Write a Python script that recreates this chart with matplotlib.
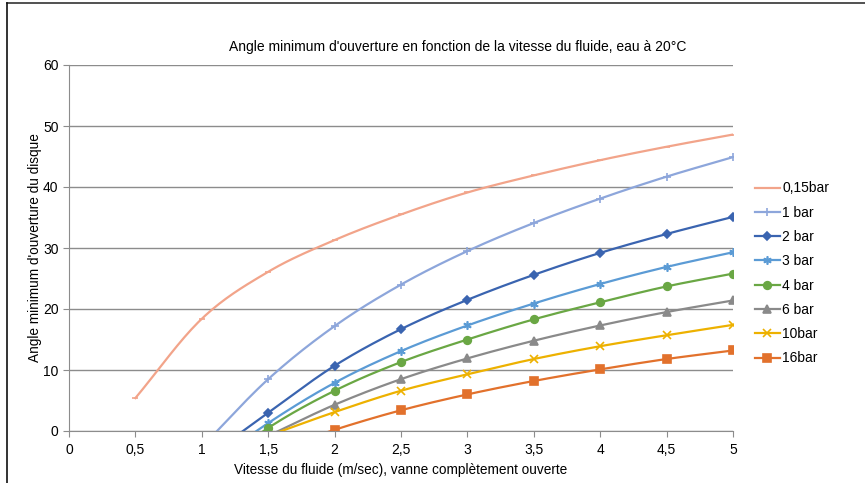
import numpy as np
import matplotlib
matplotlib.use("Agg")
import matplotlib.pyplot as plt
from matplotlib.lines import Line2D

plt.rcParams['font.family'] = ['Liberation Sans', 'DejaVu Sans']

# vitesse (m/s)
x_015 = [0.5, 1.0, 1.5, 2.0, 2.5, 3.0, 3.5, 4.0, 4.5, 5.0]
x_1 = [1.0, 1.5, 2.0, 2.5, 3.0, 3.5, 4.0, 4.5, 5.0]
x_2 = [1.0, 1.5, 2.0, 2.5, 3.0, 3.5, 4.0, 4.5, 5.0]
x_3 = [1.0, 1.5, 2.0, 2.5, 3.0, 3.5, 4.0, 4.5, 5.0]
x_4 = [1.0, 1.5, 2.0, 2.5, 3.0, 3.5, 4.0, 4.5, 5.0]
x_6 = [1.5, 2.0, 2.5, 3.0, 3.5, 4.0, 4.5, 5.0]
x_10 = [1.5, 2.0, 2.5, 3.0, 3.5, 4.0, 4.5, 5.0]
x_16 = [1.5, 2.0, 2.5, 3.0, 3.5, 4.0, 4.5, 5.0]

# angle minimum (deg) - negative values fall below the axis and are clipped
y_015 = [5.4, 18.4, 26.1, 31.3, 35.5, 39.1, 41.9, 44.4, 46.6, 48.6]
y_1 = [-2.6, 8.5, 17.2, 24.0, 29.5, 34.1, 38.1, 41.7, 44.9]
y_2 = [-4.9, 3.0, 10.7, 16.7, 21.5, 25.6, 29.2, 32.3, 35.1]
y_3 = [-6.5, 1.3, 7.9, 13.1, 17.3, 20.9, 24.1, 26.9, 29.3]
y_4 = [-7.5, 0.5, 6.6, 11.3, 15.0, 18.3, 21.1, 23.7, 25.8]
y_6 = [-0.8, 4.3, 8.5, 11.9, 14.8, 17.3, 19.5, 21.4]
y_10 = [-0.8, 3.1, 6.6, 9.3, 11.8, 13.9, 15.7, 17.4]
y_16 = [-3.5, 0.2, 3.4, 6.0, 8.2, 10.1, 11.8, 13.2]

labels = ['0,15bar', '1 bar', '2 bar', '3 bar', '4 bar', '6 bar', '10bar', '16bar']
xs = [x_015, x_1, x_2, x_3, x_4, x_6, x_10, x_16]
ys = [y_015, y_1, y_2, y_3, y_4, y_6, y_10, y_16]
colors = ['#F2A48A', '#8DA6DB', '#3A64B0', '#5B9BD5', '#6AA744', '#8A8A8A', '#EDB100', '#E2712C']
markers = ['_', '+', 'D', (6, 2, 0), 'o', '^', 'x', 's']
msizes = [4, 6, 4.5, 6, 5.5, 6, 5.5, 6]


def smooth(x, y, n=20):
    # catmull-rom curve through the points, like excel smoothed lines
    x = np.asarray(x, float)
    y = np.asarray(y, float)
    px = np.concatenate([[2 * x[0] - x[1]], x, [2 * x[-1] - x[-2]]])
    py = np.concatenate([[2 * y[0] - y[1]], y, [2 * y[-1] - y[-2]]])
    t = np.linspace(0, 1, n)
    ox, oy = [], []
    for i in range(1, len(px) - 2):
        for p, o in ((px, ox), (py, oy)):
            p0, p1, p2, p3 = p[i - 1], p[i], p[i + 1], p[i + 2]
            o.extend(0.5 * (2 * p1 + (-p0 + p2) * t
                            + (2 * p0 - 5 * p1 + 4 * p2 - p3) * t ** 2
                            + (-p0 + 3 * p1 - 3 * p2 + p3) * t ** 3))
    return np.array(ox), np.array(oy)


fig = plt.figure(figsize=(8.65, 4.83), dpi=100)
ax = fig.add_axes([69 / 865, 1 - 431 / 483, 664 / 865, 366 / 483])

handles = []
for x, y, c, m, ms, lab in zip(xs, ys, colors, markers, msizes, labels):
    sx, sy = smooth(x, y)
    ax.plot(sx, sy, color=c, lw=1.6, clip_on=True)
    ax.plot(x, y, ls='none', marker=m, ms=ms, color=c, mec=c, mew=1.2)
    handles.append(Line2D([0], [0], color=c, lw=1.6, marker=m, ms=ms, mec=c, mew=1.2))

ax.set_xlim(0, 5)
ax.set_ylim(0, 60)
ax.set_xticks(np.arange(0, 5.01, 0.5))
ax.set_xticklabels(['0', '0,5', '1', '1,5', '2', '2,5', '3', '3,5', '4', '4,5', '5'])
ax.set_yticks(range(0, 61, 10))
ax.yaxis.grid(True, color='#8C8C8C', lw=1)
ax.set_axisbelow(True)
for s in ['top', 'right']:
    ax.spines[s].set_visible(False)
for s in ['left', 'bottom']:
    ax.spines[s].set_color('#8C8C8C')
ax.tick_params(axis='both', colors='#8C8C8C', labelcolor='black', labelsize=10, length=4)
ax.tick_params(axis='x', pad=5)

ax.set_xlabel('Vitesse du fluide (m/sec), vanne complètement ouverte', fontsize=9.8, labelpad=4)
ax.set_ylabel("Angle minimum d'ouverture du disque", fontsize=9.8, labelpad=1)
fig.text(458 / 865, 1 - 47 / 483, "Angle minimum d'ouverture en fonction de la vitesse du fluide, eau à 20°C",
         ha='center', va='center', fontsize=10)

fig.legend(handles, labels, loc='upper left', bbox_to_anchor=(742 / 865, 1 - 169 / 483),
           frameon=False, fontsize=10, handlelength=1.85, handletextpad=0.15, labelspacing=0.74)

# outer frame (top and left edges)
fig.add_artist(Line2D([7 / 865, 1], [1 - 3 / 483, 1 - 3 / 483], color='#333333', lw=1.2, transform=fig.transFigure))
fig.add_artist(Line2D([7 / 865, 7 / 865], [0, 1 - 3 / 483], color='#111111', lw=1.2, transform=fig.transFigure))

fig.savefig('out.png', dpi=100)
